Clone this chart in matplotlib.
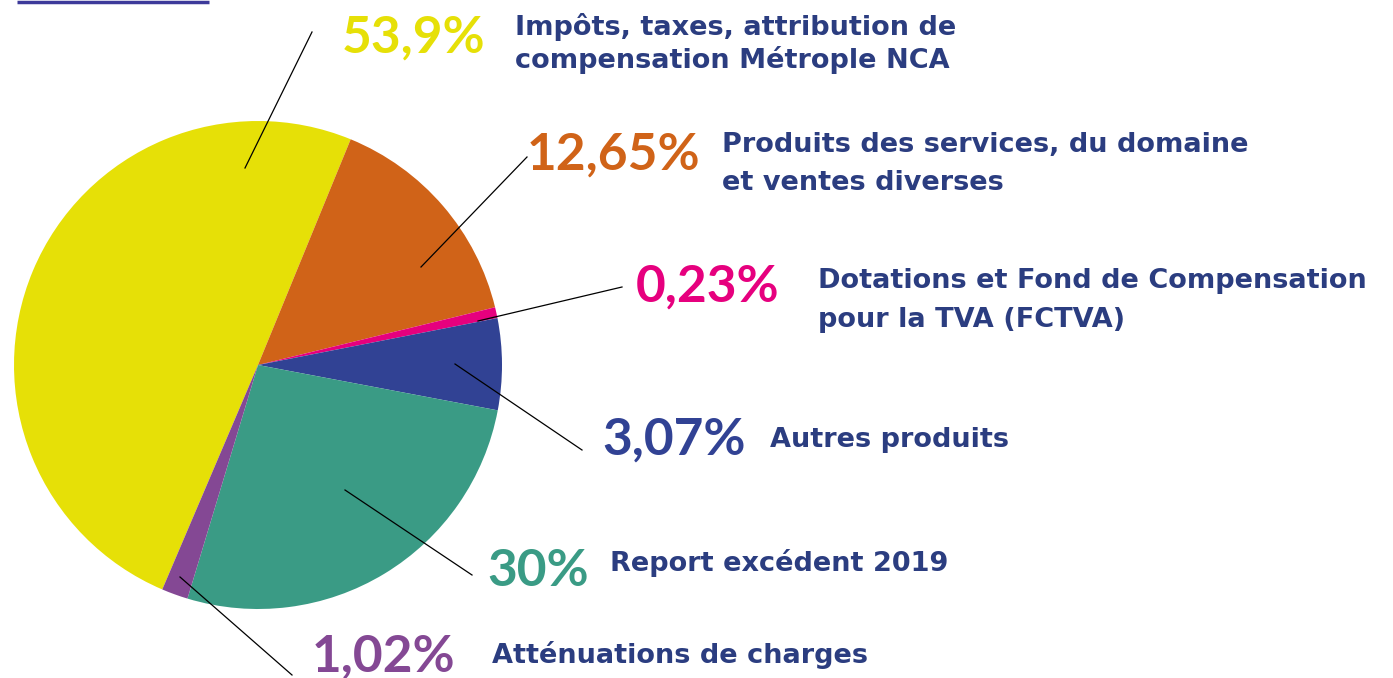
import matplotlib
matplotlib.use('Agg')
import matplotlib.pyplot as plt

W, H = 1393, 678

# parts de chaque secteur telles que dessinees (estimees sur l'image)
parts = [49.8, 15.0, 0.72, 6.06, 26.7, 1.75]
pourcentages = ['53,9%', '12,65%', '0,23%', '3,07%', '30%', '1,02%']
libelles = [
    ['Impôts, taxes, attribution de', 'compensation Métrople NCA'],
    ['Produits des services, du domaine', 'et ventes diverses'],
    ['Dotations et Fond de Compensation', 'pour la TVA (FCTVA)'],
    ['Autres produits'],
    ['Report excédent 2019'],
    ['Atténuations de charges'],
]
couleurs = ['#E6E007', '#D06318', '#E6007E', '#314294', '#3A9B85', '#844894']
bleu_texte = '#2B3D80'

# positions (pixels) : texte pourcentage, texte libelle, trait de rappel
pos_pct = [(342, 38), (527, 155), (636, 287), (602, 440), (487, 571), (312, 657)]
pos_lib = [(515, 27), (722, 145), (818, 281), (770, 440), (610, 563), (492, 655)]
ecart_lignes = [33, 38, 39, 0, 0, 0]
traits = [((245, 168), (312, 32)), ((421, 267), (527, 157)), ((478, 321), (622, 287)),
          ((455, 364), (582, 450)), ((345, 490), (472, 575)), ((180, 577), (292, 675))]


def py(y):
    return H - y


fig = plt.figure(figsize=(W / 100, H / 100), dpi=100)
ax = fig.add_axes([0, 0, 1, 1])

ax.pie(parts, colors=couleurs, startangle=246.9, counterclock=False,
       center=(258, py(365)), radius=244, frame=True,
       wedgeprops=dict(linewidth=0))
ax.set_xlim(0, W)
ax.set_ylim(0, H)
ax.set_aspect('equal')
ax.axis('off')

# petit trait en haut a gauche
ax.plot([17, 209], [py(2), py(2)], color='#3D3A9A', lw=2.5, solid_capstyle='butt')

for (a, b) in traits:
    ax.plot([a[0], b[0]], [py(a[1]), py(b[1])], color='black', lw=0.9)

for i in range(len(parts)):
    x, y = pos_pct[i]
    ax.text(x, py(y), pourcentages[i], color=couleurs[i], fontsize=37,
            fontweight='bold', family='Lato', ha='left', va='center')
    lx, ly = pos_lib[i]
    for j, ligne in enumerate(libelles[i]):
        ax.text(lx, py(ly + j * ecart_lignes[i]), ligne, color=bleu_texte,
                fontsize=19.5, fontweight='bold', family='DejaVu Sans',
                ha='left', va='center')

fig.savefig('out.png', dpi=100)
